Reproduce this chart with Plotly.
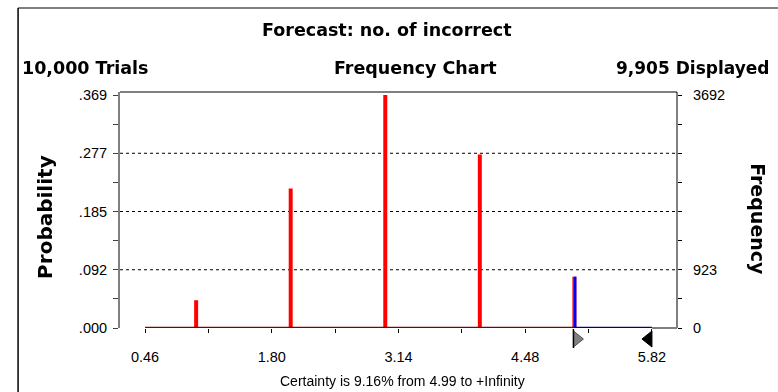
import plotly.graph_objects as go

# ---- data ----
values = [1, 2, 3, 4, 5]
frequency = [440, 2210, 3692, 2750, 813]
trials = 10000
probability = [f / trials for f in frequency]

cert_lo = 4.99
cert_hi = 5.82
x_start = 0.46

xtick_vals = [0.46, 1.13, 1.80, 2.47, 3.14, 3.81, 4.48, 5.15, 5.82]
xtick_text = ["0.46", "", "1.80", "", "3.14", "", "4.48", "", "5.82"]

ytick_vals = [0, 0.04615, 0.0923, 0.13845, 0.1846, 0.23075, 0.2769, 0.32305, 0.3692]
ytick_text = [".000", "", ".092", "", ".185", "", ".277", "", ".369"]
grid_vals = [0.0923, 0.1846, 0.2769]

y2tick_vals = [0, 461.5, 923, 1384.5, 1846, 2307.5, 2769, 3230.5, 3692]
y2tick_text = ["0", "", "923", "", "", "", "", "", "3692"]

XR = [0.195, 6.085]
FONT = "Liberation Sans, Arial, sans-serif"
BFONT = "DejaVu Sans, Liberation Sans, Arial, sans-serif"


def xpaper(v):
    return (v - XR[0]) / (XR[1] - XR[0])


fig = go.Figure()

# baseline segments
fig.add_trace(go.Scatter(x=[x_start, cert_lo], y=[0, 0], mode="lines",
                         line=dict(color="#800000", width=2.5), hoverinfo="skip", cliponaxis=False))
fig.add_trace(go.Scatter(x=[cert_lo, cert_hi], y=[0, 0], mode="lines",
                         line=dict(color="#000080", width=2.5), hoverinfo="skip", cliponaxis=False))

# bars
fig.add_trace(go.Bar(x=values, y=probability, width=0.042, marker=dict(color="#FF0000", line=dict(width=0)),
                     hoverinfo="skip"))
# part of bars inside certainty range shown blue (right half)
in_x = [v for v in values if v >= cert_lo]
in_y = [p for v, p in zip(values, probability) if v >= cert_lo]
fig.add_trace(go.Bar(x=in_x, y=in_y, width=0.021, offset=0, marker=dict(color="#0000FF", line=dict(width=0)),
                     hoverinfo="skip"))

# frequency trace for right axis
fig.add_trace(go.Scatter(x=values, y=frequency, yaxis="y2", mode="markers", opacity=0,
                         hoverinfo="skip", showlegend=False))

shapes = []
for g in grid_vals:
    shapes.append(dict(type="line", xref="paper", x0=0, x1=1, yref="y", y0=g, y1=g,
                       line=dict(color="black", width=1, dash="dot"), layer="below"))

# frame lines
shapes.append(dict(type="line", xref="paper", yref="paper", x0=0, x1=1, y0=1, y1=1,
                   line=dict(color="#808080", width=2)))
shapes.append(dict(type="line", xref="paper", yref="paper", x0=1, x1=1, y0=0, y1=1,
                   line=dict(color="black", width=1)))
shapes.append(dict(type="line", xref="paper", yref="paper", x0=xpaper(cert_hi), x1=1, y0=0, y1=0,
                   line=dict(color="#808080", width=2)))
# outer border
shapes.append(dict(type="line", xref="paper", yref="paper", x0=-0.183, x1=1.3, y0=1.356, y1=1.356,
                   line=dict(color="#808080", width=2)))
shapes.append(dict(type="line", xref="paper", yref="paper", x0=-0.183, x1=-0.183, y0=1.356, y1=-0.4,
                   line=dict(color="black", width=1.5)))

# certainty grabbers
shapes.append(dict(type="path", xref="paper", yref="paper", xsizemode="pixel", ysizemode="pixel",
                   xanchor=xpaper(cert_lo), yanchor=0, path="M 0,-3 L 0,-19 L 10,-11 Z",
                   fillcolor="#808080", line=dict(color="#505050", width=1)))
shapes.append(dict(type="line", xref="paper", yref="paper", xsizemode="pixel", ysizemode="pixel",
                   xanchor=xpaper(cert_lo), yanchor=0, x0=0, x1=0, y0=-1, y1=-20,
                   line=dict(color="black", width=1.5)))
shapes.append(dict(type="path", xref="paper", yref="paper", xsizemode="pixel", ysizemode="pixel",
                   xanchor=xpaper(cert_hi), yanchor=0, path="M 0,-3 L 0,-19 L -10,-11 Z",
                   fillcolor="black", line=dict(color="black", width=1)))


def ann(text, x, y, size, bold=False, xanchor="center", angle=0, family=FONT):
    return dict(text=f"<b>{text}</b>" if bold else text, x=x, y=y, xref="paper", yref="paper",
                showarrow=False, xanchor=xanchor, yanchor="middle", textangle=angle,
                font=dict(family=family, size=size, color="black"))


annotations = [
    ann("Forecast: no. of incorrect", 0.479, 1.263, 17.5, True, family=BFONT),
    ann("10,000 Trials", -0.18, 1.102, 17.5, True, "left", family=BFONT),
    ann("Frequency Chart", 0.531, 1.102, 17.5, True, family=BFONT),
    ann("9,905 Displayed", 1.168, 1.102, 17, True, "right", family=BFONT),
    ann("Probability", -0.135, 0.47, 20, True, angle=-90, family=BFONT),
    ann("Frequency", 1.144, 0.46, 19, True, angle=90, family=BFONT),
    ann("Certainty is 9.16% from 4.99 to +Infinity", 0.508, -0.225, 14),
]

fig.update_layout(
    width=778, height=392, autosize=False,
    margin=dict(l=120, r=101, t=92, b=64),
    paper_bgcolor="white", plot_bgcolor="white",
    showlegend=False, barmode="overlay",
    shapes=shapes, annotations=annotations,
    font=dict(family=FONT, size=14, color="black"),
    xaxis=dict(range=XR, tickvals=xtick_vals, ticktext=xtick_text,
               ticks="outside", ticklen=4, tickcolor="black", tickwidth=1,
               showgrid=False, zeroline=False, showline=False,
               tickfont=dict(family=FONT, size=14.5), ticklabelstandoff=12),
    yaxis=dict(range=[0, 0.374], tickvals=ytick_vals, ticktext=ytick_text,
               ticks="outside", ticklen=5, tickcolor="#404040", tickwidth=1,
               showgrid=False, zeroline=False, showline=True, linecolor="#808080", linewidth=2,
               tickfont=dict(family=FONT, size=14.5), ticklabelstandoff=3),
    yaxis2=dict(range=[0, 3740], overlaying="y", side="right", tickvals=y2tick_vals, ticktext=y2tick_text,
                ticks="outside", ticklen=4, tickcolor="black", tickwidth=1,
                showgrid=False, zeroline=False, showline=False,
                tickfont=dict(family=FONT, size=14.5), ticklabelstandoff=8),
)

fig.write_html("out.html", config={"displayModeBar": False},
               post_script="document.body.style.margin='0';document.body.style.padding='0';")
